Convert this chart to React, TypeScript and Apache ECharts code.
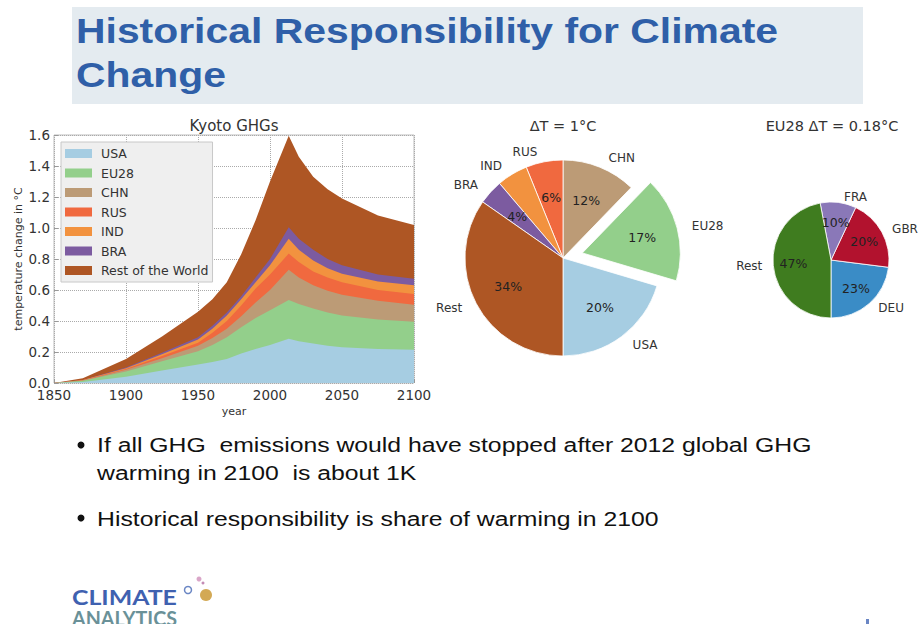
import React, { useEffect, useRef } from "react";
import * as echarts from "echarts";

// ---------- DATA ----------
const years = [1850, 1870, 1900, 1925, 1950, 1960, 1970, 1980, 1990, 2000, 2013, 2020, 2030, 2040, 2050, 2075, 2100];
// layer thickness (°C) of each stacked area
const usa = [0, 0.006, 0.04, 0.08, 0.12, 0.135, 0.155, 0.19, 0.22, 0.245, 0.285, 0.27, 0.255, 0.24, 0.23, 0.22, 0.215];
const eu28 = [0, 0.008, 0.035, 0.06, 0.085, 0.11, 0.14, 0.17, 0.2, 0.225, 0.25, 0.24, 0.225, 0.215, 0.205, 0.19, 0.18];
const chn = [0, 0.002, 0.01, 0.02, 0.035, 0.045, 0.055, 0.07, 0.1, 0.13, 0.195, 0.17, 0.15, 0.14, 0.135, 0.12, 0.11];
const rus = [0, 0.002, 0.005, 0.015, 0.02, 0.035, 0.05, 0.07, 0.09, 0.1, 0.105, 0.1, 0.09, 0.085, 0.08, 0.07, 0.07];
const ind = [0, 0.001, 0.005, 0.01, 0.02, 0.025, 0.035, 0.04, 0.04, 0.06, 0.095, 0.08, 0.07, 0.06, 0.055, 0.055, 0.055];
const bra = [0, 0.001, 0.005, 0.01, 0.015, 0.02, 0.02, 0.02, 0.03, 0.04, 0.075, 0.07, 0.07, 0.06, 0.055, 0.045, 0.042];
const restWorld = [0, 0.01, 0.055, 0.105, 0.165, 0.17, 0.195, 0.27, 0.37, 0.5, 0.59, 0.53, 0.47, 0.45, 0.43, 0.38, 0.348];

const stackNames = ["USA", "EU28", "CHN", "RUS", "IND", "BRA", "Rest of the World"];
const stackLayers = [usa, eu28, chn, rus, ind, bra, restWorld];
const stackColors = ["#a6cde2", "#93cf8b", "#bc9b76", "#f0693f", "#f2923f", "#7c5ba0", "#ae5624"];

const worldPieNames = ["USA", "EU28", "CHN", "RUS", "IND", "BRA", "Rest"];
const worldPieValues = [20, 17, 12, 6, 5, 4, 34];
const worldPieColors = ["#a6cde2", "#93cf8b", "#bc9b76", "#f0693f", "#f2923f", "#7c5ba0", "#ae5624"];
const explodedSlice = "EU28";

const euPieNames = ["DEU", "GBR", "FRA", "Rest"];
const euPieValues = [23, 20, 10, 47];
const euPieColors = ["#3a8cc6", "#b2122e", "#8a78b8", "#3f7c1f"];

const titleLines = ["Historical Responsibility for Climate", "Change"];
const bulletLines = [
  "If all GHG  emissions would have stopped after 2012 global GHG",
  "warming in 2100  is about 1K",
  "Historical responsibility is share of warming in 2100",
];

// ---------- helpers ----------
function measure(text: string, font: string): number {
  const c = document.createElement("canvas").getContext("2d");
  if (!c) return text.length * 10;
  c.font = font;
  return c.measureText(text).width;
}

const AX_FONT = "DejaVu Sans";

function buildOption() {
  const titleFont = 'bold 36px "Liberation Sans"';
  const titleScale = 702 / measure(titleLines[0], titleFont);
  const bulletFont = '21px "Liberation Sans"';
  const bulletScale = 715 / measure(bulletLines[0], bulletFont);
  const logoFont = 'bold 21px "Lato"';
  const logoScale1 = 105 / measure("CLIMATE", logoFont);
  const logoScale2 = 105 / measure("ANALYTICS", logoFont);

  // cumulative tops of the stacked layers
  const cumulative = stackLayers.map((_, i) =>
    years.map((_, j) => stackLayers.slice(0, i + 1).reduce((s, l) => s + l[j], 0))
  );

  const pieLabel = { fontSize: 12, color: "#333", fontFamily: AX_FONT };

  const makePies = (
    center: number[],
    r: number,
    names: string[],
    values: number[],
    colors: string[],
    lineLen: number,
    exploded: string | null
  ) => [
    {
      type: "pie",
      center,
      radius: r,
      startAngle: 270,
      clockwise: false,
      avoidLabelOverlap: false,
      selectedMode: "single",
      selectedOffset: 20,
      emphasis: { disabled: true },
      itemStyle: { borderColor: "#ffffff", borderWidth: 0.8 },
      label: { show: true, position: "outside", formatter: "{b}", ...pieLabel },
      labelLine: { show: false, length: lineLen, length2: 0 },
      data: names.map((n, i) => ({
        name: n,
        value: values[i],
        selected: n === exploded,
        itemStyle: { color: colors[i] },
      })),
      z: 3,
    },
    {
      type: "pie",
      center,
      radius: r * 1.2,
      startAngle: 270,
      clockwise: false,
      avoidLabelOverlap: false,
      selectedMode: "single",
      selectedOffset: 20,
      silent: true,
      emphasis: { disabled: true },
      itemStyle: { color: "transparent", borderWidth: 0 },
      label: { show: true, position: "inside", formatter: "{c}%", fontSize: 12.5, color: "#222", fontFamily: AX_FONT },
      labelLine: { show: false },
      data: names.map((n, i) => ({ name: n, value: values[i], selected: n === exploded })),
      z: 4,
    },
  ];

  return {
    animation: false,
    backgroundColor: "#ffffff",
    legend: {
      data: stackNames,
      orient: "vertical",
      left: 61,
      top: 142,
      padding: [5, 4, 5, 4],
      itemWidth: 27,
      itemHeight: 9,
      itemGap: 6.5,
      icon: "rect",
      selectedMode: false,
      backgroundColor: "#efefef",
      borderColor: "#c8c8c8",
      borderWidth: 1,
      textStyle: { fontSize: 12.5, color: "#333", fontFamily: AX_FONT, padding: [0, 0, 0, 4] },
      z: 30,
    },
    grid: {
      left: 54,
      top: 135,
      width: 360,
      height: 248,
      show: true,
      borderColor: "#bdbdbd",
      borderWidth: 1,
      backgroundColor: "#ffffff",
    },
    xAxis: {
      type: "value",
      min: 1850,
      max: 2100,
      interval: 50,
      name: "year",
      nameLocation: "middle",
      nameGap: 23,
      nameTextStyle: { fontSize: 11, color: "#333", fontFamily: AX_FONT },
      axisLine: { show: false },
      axisTick: { show: true, inside: true, length: 4, lineStyle: { color: "#999" } },
      axisLabel: {
        fontSize: 13.5,
        color: "#333",
        fontFamily: AX_FONT,
        margin: 5,
        formatter: (v: number) => String(Math.round(v)),
      },
      splitLine: { show: true, lineStyle: { type: "dotted", color: "#aaa", width: 1 } },
    },
    yAxis: {
      type: "value",
      min: 0,
      max: 1.6,
      interval: 0.2,
      name: "temperature change in °C",
      nameLocation: "middle",
      nameGap: 30,
      nameRotate: 90,
      nameTextStyle: { fontSize: 11, color: "#333", fontFamily: AX_FONT },
      axisLine: { show: false },
      axisTick: { show: true, inside: true, length: 4, lineStyle: { color: "#999" } },
      axisLabel: {
        fontSize: 13.5,
        color: "#333",
        fontFamily: AX_FONT,
        margin: 4,
        formatter: (v: number) => v.toFixed(1),
      },
      splitLine: { show: true, lineStyle: { type: "dotted", color: "#aaa", width: 1 } },
    },
    series: [
      ...stackNames.map((n, i) => ({
        name: n,
        type: "line",
        symbol: "none",
        showSymbol: false,
        lineStyle: { width: 0 },
        itemStyle: { color: stackColors[i] },
        areaStyle: { color: stackColors[i], opacity: 1 },
        emphasis: { disabled: true },
        data: years.map((y, j) => [y, cumulative[i][j]]),
        z: 20 - i,
      })),
      ...makePies([563, 258], 98, worldPieNames, worldPieValues, worldPieColors, 10, explodedSlice),
      ...makePies([831, 260], 58, euPieNames, euPieValues, euPieColors, 6, null),
    ],
    graphic: [
      { type: "rect", shape: { x: 72, y: 7, width: 791, height: 97 }, style: { fill: "#e4ebf0" }, z: 0 },
      {
        type: "text",
        x: 76,
        y: 30,
        scaleX: titleScale,
        style: { text: titleLines[0], font: titleFont, fill: "#2f5fa8", verticalAlign: "middle", align: "left" },
        z: 1,
      },
      {
        type: "text",
        x: 76,
        y: 74,
        scaleX: titleScale,
        style: { text: titleLines[1], font: titleFont, fill: "#2f5fa8", verticalAlign: "middle", align: "left" },
        z: 1,
      },
      {
        type: "text",
        x: 234,
        y: 126,
        style: { text: "Kyoto GHGs", font: `15px "${AX_FONT}"`, fill: "#333", align: "center", verticalAlign: "middle" },
      },
      {
        type: "text",
        x: 563,
        y: 126,
        style: { text: "ΔT = 1°C", font: `14.5px "${AX_FONT}"`, fill: "#333", align: "center", verticalAlign: "middle" },
      },
      {
        type: "text",
        x: 832,
        y: 126,
        style: { text: "EU28 ΔT = 0.18°C", font: `14.5px "${AX_FONT}"`, fill: "#333", align: "center", verticalAlign: "middle" },
      },
      { type: "circle", shape: { cx: 81, cy: 445, r: 3.5 }, style: { fill: "#111" } },
      { type: "circle", shape: { cx: 81, cy: 518, r: 3.5 }, style: { fill: "#111" } },
      {
        type: "text",
        x: 97,
        y: 445,
        scaleX: bulletScale,
        style: { text: bulletLines[0], font: bulletFont, fill: "#111", verticalAlign: "middle", align: "left" },
      },
      {
        type: "text",
        x: 97,
        y: 473,
        scaleX: bulletScale,
        style: { text: bulletLines[1], font: bulletFont, fill: "#111", verticalAlign: "middle", align: "left" },
      },
      {
        type: "text",
        x: 97,
        y: 519,
        scaleX: bulletScale,
        style: { text: bulletLines[2], font: bulletFont, fill: "#111", verticalAlign: "middle", align: "left" },
      },
      {
        type: "text",
        x: 72,
        y: 597,
        scaleX: logoScale1,
        style: { text: "CLIMATE", font: logoFont, fill: "#3f61b0", verticalAlign: "middle", align: "left" },
      },
      {
        type: "text",
        x: 72,
        y: 618,
        scaleX: logoScale2,
        style: { text: "ANALYTICS", font: logoFont, fill: "#6a9198", verticalAlign: "middle", align: "left" },
      },
      { type: "circle", shape: { cx: 188, cy: 590, r: 3.5 }, style: { fill: "none", stroke: "#6a86c4", lineWidth: 1.5 } },
      { type: "circle", shape: { cx: 199, cy: 579, r: 2.5 }, style: { fill: "#d9a6c8" } },
      { type: "circle", shape: { cx: 203, cy: 583, r: 1.5 }, style: { fill: "#c48bb5" } },
      { type: "circle", shape: { cx: 206, cy: 595, r: 6 }, style: { fill: "#d3a955" } },
      { type: "rect", shape: { x: 866, y: 619, width: 3, height: 5 }, style: { fill: "#6a86c4" } },
    ],
  };
}

export default function App() {
  const ref = useRef<HTMLDivElement>(null);
  useEffect(() => {
    if (!ref.current) return;
    const chart = echarts.init(ref.current, null, { renderer: "svg" });
    chart.setOption(buildOption() as any);
    return () => chart.dispose();
  }, []);
  return (
    <div
      ref={ref}
      style={{ position: "fixed", left: 0, top: 0, width: 920, height: 624, background: "#ffffff" }}
    />
  );
}
